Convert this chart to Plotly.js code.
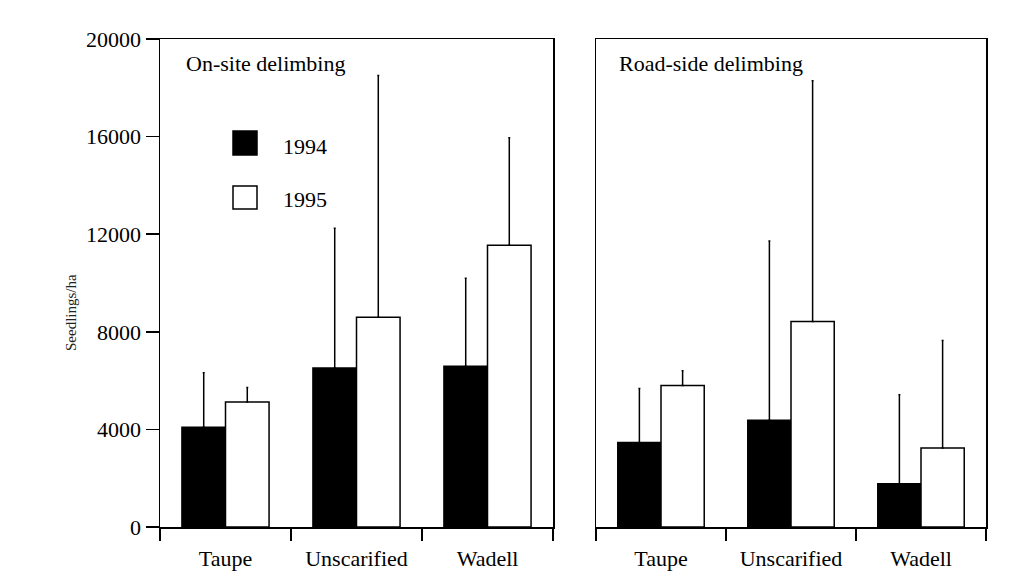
<!DOCTYPE html>
<html>
<head>
<meta charset="utf-8">
<script src="https://cdn.plot.ly/plotly-3.0.1.min.js"></script>
<style>
  html, body { margin: 0; padding: 0; background: #ffffff; }
  #chart { width: 1015px; height: 574px; }
</style>
</head>
<body>
<div id="chart"></div>
<script>
// Seedling density (seedlings/ha) by site preparation method, two delimbing regimes
const categories = ['Taupe', 'Unscarified', 'Wadell'];
const years = ['1994', '1995'];

// On-site delimbing
const onsite1994 = [4090, 6520, 6590];
const onsite1994Err = [2230, 5720, 3600];
const onsite1995 = [5120, 8600, 11550];
const onsite1995Err = [600, 9900, 4400];

// Road-side delimbing
const roadside1994 = [3460, 4370, 1770];
const roadside1994Err = [2220, 7350, 3650];
const roadside1995 = [5800, 8420, 3240];
const roadside1995Err = [600, 9870, 4400];

const yTicks = [0, 4000, 8000, 12000, 16000, 20000];
const panelTitles = ['On-site delimbing', 'Road-side delimbing'];
const yTitle = 'Seedlings/ha';

const FONT = 'Liberation Serif';
const FS = 22;
const W = 1015, H = 574;
const M = { l: 160, r: 29, t: 39, b: 47 };
const plotW = W - M.l - M.r, plotH = H - M.t - M.b;
const px = x => (x - M.l) / plotW;          // pixel -> paper x
const py = y => (H - M.b - y) / plotH;      // pixel -> paper y

function barTrace(xa, ya, vals, errs, filled, name) {
  return {
    type: 'bar', x: categories, y: vals, name: name,
    xaxis: xa, yaxis: ya, showlegend: false,
    marker: { color: filled ? '#000000' : '#ffffff', line: { color: '#000000', width: 1.5 } },
    error_y: { type: 'data', symmetric: false, array: errs, arrayminus: errs.map(() => 0),
               color: '#000000', thickness: 1.5, width: 1 },
    hoverinfo: 'skip'
  };
}

const data = [
  barTrace('x', 'y', onsite1994, onsite1994Err, true, years[0]),
  barTrace('x', 'y', onsite1995, onsite1995Err, false, years[1]),
  barTrace('x2', 'y2', roadside1994, roadside1994Err, true, years[0]),
  barTrace('x2', 'y2', roadside1995, roadside1995Err, false, years[1])
];

const axisCommon = {
  showline: true, linecolor: '#000000', linewidth: 1.5, mirror: true,
  showgrid: false, zeroline: false
};

const xCommon = {
  type: 'category', tickson: 'boundaries',
  ticks: 'outside', ticklen: 12, tickwidth: 1.5, tickcolor: '#000000',
  ticklabelstandoff: 11,
  tickfont: { family: FONT, size: FS, color: '#000000' }
};

const layout = {
  width: W, height: H,
  margin: M,
  paper_bgcolor: '#ffffff', plot_bgcolor: '#ffffff',
  font: { family: FONT, size: FS, color: '#000000' },
  barmode: 'group', bargap: 0.335, bargroupgap: 0,
  xaxis: Object.assign({}, axisCommon, xCommon, { domain: [0, px(553)] }),
  xaxis2: Object.assign({}, axisCommon, xCommon, { domain: [px(596), 1], anchor: 'y2' }),
  yaxis: Object.assign({}, axisCommon, {
    range: [0, 20000], tickvals: yTicks, ticktext: yTicks.map(String),
    ticks: 'outside', ticklen: 13, tickwidth: 1.5, tickcolor: '#000000',
    tickfont: { family: FONT, size: FS, color: '#000000' }
  }),
  yaxis2: Object.assign({}, axisCommon, {
    range: [0, 20000], anchor: 'x2', showticklabels: false, ticks: ''
  }),
  shapes: [
    { type: 'rect', xref: 'paper', yref: 'paper', x0: px(233), x1: px(257), y0: py(155), y1: py(131),
      fillcolor: '#000000', line: { color: '#000000', width: 1.5 } },
    { type: 'rect', xref: 'paper', yref: 'paper', x0: px(233), x1: px(257), y0: py(209), y1: py(186),
      fillcolor: '#ffffff', line: { color: '#000000', width: 1.5 } }
  ],
  annotations: [
    { text: panelTitles[0], xref: 'paper', yref: 'paper', x: px(184), y: py(63),
      xanchor: 'left', yanchor: 'middle', showarrow: false, font: { family: FONT, size: FS } },
    { text: panelTitles[1], xref: 'paper', yref: 'paper', x: px(617), y: py(63),
      xanchor: 'left', yanchor: 'middle', showarrow: false, font: { family: FONT, size: FS } },
    { text: years[0], xref: 'paper', yref: 'paper', x: px(281), y: py(146),
      xanchor: 'left', yanchor: 'middle', showarrow: false, font: { family: FONT, size: FS } },
    { text: years[1], xref: 'paper', yref: 'paper', x: px(281), y: py(199),
      xanchor: 'left', yanchor: 'middle', showarrow: false, font: { family: FONT, size: FS } },
    { text: yTitle, xref: 'paper', yref: 'paper', x: px(71), y: py(313),
      xanchor: 'center', yanchor: 'middle', textangle: -90, showarrow: false,
      font: { family: FONT, size: 15, color: '#222222' } }
  ]
};

Plotly.newPlot('chart', data, layout, { displayModeBar: false, staticPlot: true });
</script>
</body>
</html>
